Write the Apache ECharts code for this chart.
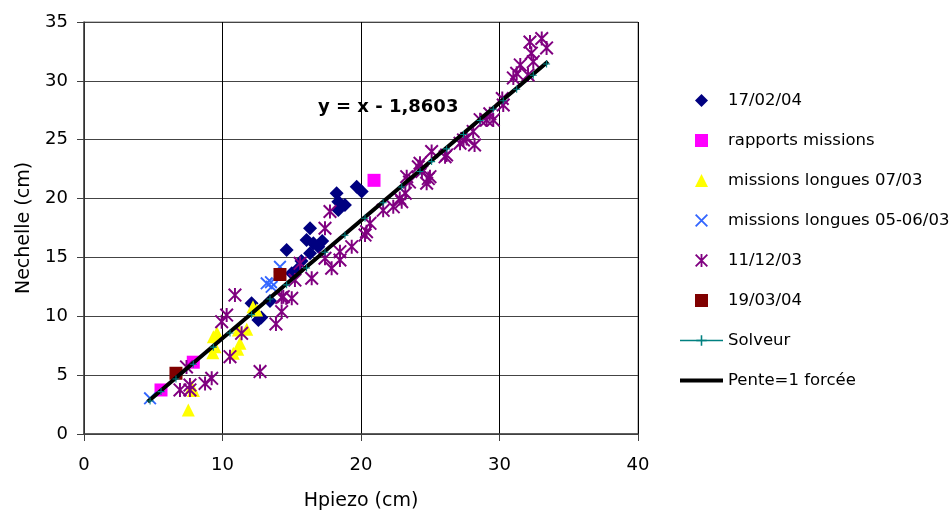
<!DOCTYPE html>
<html>
<head>
<meta charset="utf-8">
<script src="https://cdn.jsdelivr.net/npm/echarts@6/dist/echarts.min.js"></script>
<style>html,body{margin:0;padding:0;background:#fff}#c{width:952px;height:512px}</style>
</head>
<body>
<div id="c"></div>
<script>
// ---- data ----
const seriesNames = ['17/02/04', 'rapports missions', 'missions longues 07/03', 'missions longues 05-06/03', '11/12/03', '19/03/04', 'Solveur', 'Pente=1 forcée'];
const xTicks = [0, 10, 20, 30, 40];
const yTicks = [0, 5, 10, 15, 20, 25, 30, 35];
const equationLabel = 'y = x - 1,8603';

const pts170204 = [[12.1,11.1],[12.59,9.69],[12.8,9.9],[13.43,11.3],[14.63,15.63],[15.0,13.65],[15.36,13.93],[15.7,14.7],[16.07,16.48],[16.32,17.48],[16.56,16.2],[16.92,15.91],[16.32,15.35],[17.2,16.4],[18.24,20.45],[18.36,19.74],[18.84,19.46],[18.36,19.03],[19.69,21.0],[20.05,20.6]];
const ptsRapports = [[5.56,3.74],[7.89,6.1],[20.94,21.55]];
const ptsLongues0703 = [[7.53,2.04],[7.77,4.0],[7.9,3.7],[9.34,8.27],[9.46,7.42],[9.3,6.9],[9.6,8.6],[10.78,6.86],[11.14,8.84],[11.26,7.7],[11.1,7.2],[11.75,8.9],[12.46,10.54],[12.2,10.8]];
const ptsLongues0506 = [[4.77,3.03],[13.19,12.8],[13.55,12.5],[14.15,14.2],[13.5,12.9]];
const pts111203 = [[6.93,3.74],[7.4,5.7],[7.65,4.16],[7.65,3.74],[8.74,4.3],[9.22,4.73],[9.94,9.54],[10.3,10.1],[10.54,6.57],[10.9,11.8],[11.38,8.55],[12.71,5.3],[13.86,9.35],[14.27,10.39],[14.27,11.6],[14.39,11.67],[15.0,11.53],[15.23,13.08],[15.6,14.5],[16.44,13.23],[17.4,14.93],[17.4,17.48],[17.76,18.9],[17.88,14.08],[18.48,15.49],[18.48,14.78],[19.33,15.91],[20.29,16.9],[20.4,17.19],[20.65,17.9],[21.6,19.0],[22.33,19.3],[22.8,20.0],[22.94,19.74],[23.2,20.45],[23.3,21.86],[23.5,21.4],[24.14,22.7],[24.26,23.0],[24.4,22.3],[24.86,21.7],[24.74,21.3],[24.98,21.86],[25.1,24.0],[26.07,23.55],[26.18,23.7],[27.15,24.7],[27.4,24.98],[27.63,25.1],[28.1,25.7],[28.2,24.55],[28.6,26.7],[29.07,26.68],[29.55,26.68],[29.3,27.2],[30.2,28.5],[30.27,27.95],[31.0,30.25],[31.24,30.64],[31.5,31.35],[32.06,30.5],[32.44,31.63],[32.3,32.35],[32.2,33.3],[33.05,33.6],[33.4,32.8]];
const pts190304 = [[6.64,5.16],[14.15,13.55]];
const ptsSolveur = [[4.77,2.8],[5.56,3.6],[6.64,4.68],[7.89,5.93],[9.34,7.38],[10.54,8.58],[12.1,10.14],[13.43,11.47],[14.63,12.67],[16.07,14.11],[17.4,15.44],[18.84,16.88],[20.29,18.33],[21.6,19.64],[22.94,20.98],[24.26,22.3],[25.1,23.14],[26.18,24.22],[27.4,25.44],[28.6,26.64],[29.55,27.59],[30.27,28.31],[31.24,29.28],[32.44,30.48],[33.4,31.44]];
const ptsPente = [[4.6,2.74],[33.5,31.64]];

// ---- symbols ----
const SYM_DIAMOND = 'path://M10 0 L20 10 L10 20 L0 10 Z';
const SYM_SQUARE = 'path://M0 0 L20 0 L20 20 L0 20 Z';
const SYM_TRIANGLE = 'path://M10 0 L20 20 L0 20 Z';
const SYM_X = 'path://M0 2 L2 0 L20 18 L18 20 Z M18 0 L20 2 L2 20 L0 18 Z';
const SYM_AST = 'path://M8.6 0 L11.4 0 L11.4 20 L8.6 20 Z M0 2 L2 0 L20 18 L18 20 Z M18 0 L20 2 L2 20 L0 18 Z';
const SYM_PLUS = 'path://M8.5 0 L11.5 0 L11.5 20 L8.5 20 Z M0 8.5 L20 8.5 L20 11.5 L0 11.5 Z';
const SYM_BAR = 'path://M0 9 L20 9 L20 11 L0 11 Z';

const FONT = 'DejaVu Sans';
const chart = echarts.init(document.getElementById('c'), null, {renderer: 'canvas'});

function scatter(name, data, symbol, size, color) {
  return {
    name: name, type: 'scatter', data: data, symbol: symbol, symbolSize: size,
    symbolKeepAspect: true,
    itemStyle: {color: color, opacity: 1},
    emphasis: {disabled: true}
  };
}

const legendData = seriesNames.map(function (n, i) {
  if (i === 7) return {name: n, lineStyle: {width: 4, color: '#000'}, itemStyle: {color: 'rgba(0,0,0,0)', opacity: 0, borderWidth: 0}};
  if (i === 6) return {name: n, lineStyle: {width: 1.5, color: '#008080'}};
  return {name: n};
});

chart.setOption({
  animation: false,
  backgroundColor: '#ffffff',
  textStyle: {fontFamily: FONT},
  grid: {left: 84, right: 314, top: 22, bottom: 78, show: true, borderColor: '#808080', borderWidth: 1,
         backgroundColor: '#ffffff', containLabel: false, outerBoundsMode: 'none'},
  xAxis: {
    type: 'value', min: xTicks[0], max: xTicks[xTicks.length - 1], interval: 10,
    name: 'Hpiezo (cm)', nameLocation: 'middle', nameGap: 58,
    nameTextStyle: {fontFamily: FONT, fontSize: 19, color: '#000'},
    axisLine: {show: true, onZero: false, lineStyle: {color: '#404040', width: 1.5}},
    axisTick: {show: true, length: 7, inside: false, lineStyle: {color: '#404040'}},
    axisLabel: {fontFamily: FONT, fontSize: 18, color: '#000', margin: 22},
    splitLine: {show: true, lineStyle: {color: '#000', width: 1}}
  },
  yAxis: {
    type: 'value', min: yTicks[0], max: yTicks[yTicks.length - 1], interval: 5,
    name: 'Nechelle (cm)', nameLocation: 'middle', nameGap: 50, nameRotate: 90,
    nameTextStyle: {fontFamily: FONT, fontSize: 19, color: '#000'},
    axisLine: {show: true, onZero: false, lineStyle: {color: '#404040', width: 1.5}},
    axisTick: {show: true, length: 7, inside: false, lineStyle: {color: '#404040'}},
    axisLabel: {fontFamily: FONT, fontSize: 18, color: '#000', margin: 16},
    splitLine: {show: true, lineStyle: {color: '#444', width: 1}}
  },
  legend: {
    orient: 'vertical', left: 673, top: 87,
    itemWidth: 43, itemHeight: 13, itemGap: 23,
    symbolKeepAspect: true,
    textStyle: {fontFamily: FONT, fontSize: 16.5, color: '#000', lineHeight: 16},
    data: legendData,
    selectedMode: false
  },
  graphic: [{
    type: 'text', left: 318, top: 98, z: 100,
    style: {text: equationLabel, fontFamily: FONT, fontSize: 18, fontWeight: 'bold', fill: '#000'}
  }],
  series: [
    scatter(seriesNames[0], pts170204, SYM_DIAMOND, 14, '#000080'),
    scatter(seriesNames[1], ptsRapports, SYM_SQUARE, 13, '#ff00ff'),
    scatter(seriesNames[2], ptsLongues0703, SYM_TRIANGLE, 13, '#ffff00'),
    scatter(seriesNames[3], ptsLongues0506, SYM_X, 13, '#3366ff'),
    scatter(seriesNames[4], pts111203, SYM_AST, 14, '#800080'),
    scatter(seriesNames[5], pts190304, SYM_SQUARE, 13, '#800000'),
    {
      name: seriesNames[6], type: 'line', data: ptsSolveur, symbol: SYM_PLUS, symbolSize: 7,
      showSymbol: true, symbolKeepAspect: true,
      lineStyle: {color: '#008080', width: 1.5}, itemStyle: {color: '#008080'},
      emphasis: {disabled: true}
    },
    {
      name: seriesNames[7], type: 'line', data: ptsPente, symbol: SYM_BAR, showSymbol: false,
      symbolKeepAspect: true,
      lineStyle: {color: '#000000', width: 4}, itemStyle: {color: '#000000'},
      emphasis: {disabled: true}
    }
  ]
});
</script>
</body>
</html>
